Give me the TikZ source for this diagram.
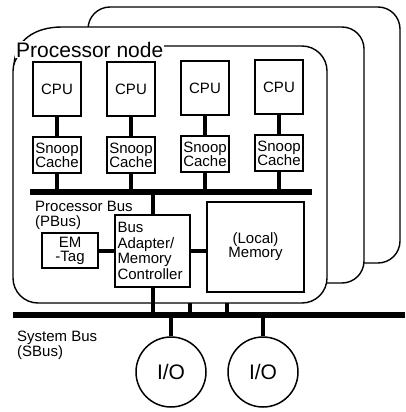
\documentclass[tikz,border=0pt]{standalone}
\usepackage{fontspec}
\setmainfont{Liberation Sans}
\tikzset{
	card/.style={draw, line width=1.4pt, fill=white},
	unitbox/.style={draw, line width=1.8pt, fill=white, inner sep=2pt, align=center, font=\fontsize{15}{14}\selectfont},
	cpubox/.style={unitbox, minimum width=48pt, minimum height=54pt},
	cachebox/.style={unitbox, minimum width=48pt, minimum height=36pt},
	iobox/.style={draw, circle, line width=1.5pt, fill=white, minimum size=70pt, inner sep=0pt, font=\fontsize{21}{22}\selectfont},
	buslabel/.style={anchor=north west, inner sep=0pt, align=left, font=\fontsize{15}{15}\selectfont},
	stem/.style={line width=4pt},
	bus/.style={line width=5.5pt}
}

\begin{document}
\begin{tikzpicture}[x=1pt, y=-1pt]
		%%%%% START %%%%%
		\useasboundingbox (0,0) rectangle (405,412);
		
		\draw[card, rounded corners=22] (88,7) rectangle (400,263);
		\draw[card] (14,283) -- (14,67) .. controls (14,40) and (35,27) .. (62,27) [rounded corners=22] -- (364,27) -- (364,283) -- cycle;
		\draw[card, rounded corners=25] (13,46) rectangle (327,303);
		\node[anchor=base west, fill=white, inner sep=1pt, font=\fontsize{21}{22}\selectfont] (title) at (15,57) {Processor node};
		
		\node[cpubox] (cpu1) at (57,89) {CPU};
		\node[cpubox] (cpu2) at (131,89) {CPU};
		\node[cpubox] (cpu3) at (205,88) {CPU};
		\node[cpubox] (cpu4) at (279,87) {CPU};
		
		\node[cachebox] (cache1) at (57,155) {Snoop\\Cache};
		\node[cachebox] (cache2) at (131,155) {Snoop\\Cache};
		\node[cachebox] (cache3) at (205,154) {Snoop\\Cache};
		\node[cachebox] (cache4) at (279,153) {Snoop\\Cache};
		
		\draw[stem] (cpu1.south) -- (cache1.north);
		\draw[stem] (cpu2.south) -- (cache2.north);
		\draw[stem] (cpu3.south) -- (cache3.north);
		\draw[stem] (cpu4.south) -- (cache4.north);
		
		% processor bus
		\coordinate (pbL) at (30,192);
		\coordinate (pbR) at (312,192);
		\draw[bus] (pbL) -- (pbR);
		\node[buslabel] (pblabel) at (35,201) {Processor Bus\\(PBus)};
		
		\draw[stem] (cache1.south) -- (cache1.south |- pbL);
		\draw[stem] (cache2.south) -- (cache2.south |- pbL);
		\draw[stem] (cache3.south) -- (cache3.south |- pbL);
		\draw[stem] (cache4.south) -- (cache4.south |- pbL);
		
		\node[unitbox, minimum width=75pt, minimum height=72pt, text width=70pt, align=left] (adapter) at (152.5,251) {Bus\\[1.5pt]Adapter/\\[1.5pt]Memory\\[1.5pt]Controller};
		\node[unitbox, minimum width=56pt, minimum height=35pt] (emtag) at (70,250.5) {EM\\-Tag};
		\node[unitbox, minimum width=97pt, minimum height=90pt] (memory) at (255.5,247) {(Local)\\Memory};
		
		\draw[stem] (adapter.north) -- (adapter.north |- pbL);
		\draw[stem] (emtag.east) -- (emtag.east -| adapter.west);
		\draw[stem] (adapter.east) -- (adapter.east -| memory.west);
		
		% system bus
		\coordinate (sbL) at (13,315);
		\coordinate (sbR) at (405,315);
		\draw[bus] (sbL) -- (sbR);
		\node[buslabel] (sblabel) at (17,331) {System Bus\\(SBus)};
		
		\coordinate (lnk1) at (190,303);
		\coordinate (lnk2) at (227,303);
		\draw[stem] (adapter.south) -- (adapter.south |- sbL);
		\draw[stem] (lnk1) -- (lnk1 |- sbL);
		\draw[stem] (lnk2) -- (lnk2 |- sbL);
		
		\node[iobox] (io1) at (171,372) {I/O};
		\node[iobox] (io2) at (263,372) {I/O};
		\draw[stem] (io1.north) -- (io1.north |- sbL);
		\draw[stem] (io2.north) -- (io2.north |- sbL);
		
		%%%%% END %%%%%
\end{tikzpicture}
\end{document}
